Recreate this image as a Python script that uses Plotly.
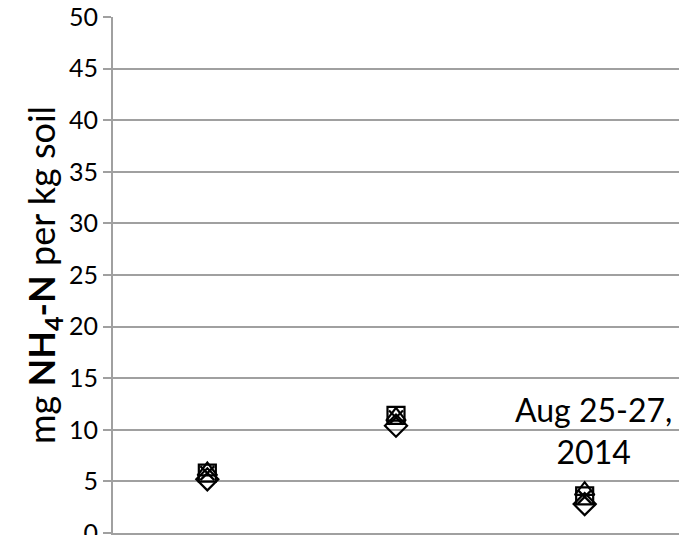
import plotly.graph_objects as go

# three sampling dates (category positions; x tick labels fall outside the crop)
sample_x = [1, 2, 3]

# mg NH4-N per kg soil, one list per treatment (marker)
square_vals = [5.8, 11.4, 3.6]
triangle_vals = [6.0, 11.3, 4.1]
x_vals = [5.8, 11.2, 3.5]
diamond_vals = [5.2, 10.4, 2.8]

y_ticks = [0, 5, 10, 15, 20, 25, 30, 35, 40, 45, 50]

FONT = "Lato"

fig = go.Figure()
series = [
    ("square-open", square_vals, 17),
    ("triangle-up-open", triangle_vals, 17),
    ("x-thin", x_vals, 14),
    ("diamond-open", diamond_vals, 17),
]
for sym, vals, size in series:
    fig.add_trace(go.Scatter(
        x=sample_x, y=vals, mode="markers",
        marker=dict(symbol=sym, size=size, color="black",
                    line=dict(color="black", width=2.2)),
        showlegend=False, hoverinfo="skip",
    ))

fig.add_annotation(
    x=sample_x[2], y=9.9, xref="x", yref="y", xshift=9,
    text="Aug 25-27,<br>2014", showarrow=False,
    font=dict(family=FONT, size=32, color="black"),
    align="center", yanchor="middle",
)

fig.update_layout(
    width=679, height=535,
    margin=dict(l=113, r=0, t=17, b=2, autoexpand=False),
    paper_bgcolor="white", plot_bgcolor="white",
    font=dict(family=FONT, color="black"),
)
fig.update_xaxes(
    range=[0.5, 3.5], showgrid=False, showticklabels=False, ticks="",
    showline=True, linecolor="#a0a0a0", linewidth=2, zeroline=False,
    automargin=False,
)
fig.update_yaxes(
    range=[0, 50], tickvals=y_ticks, showgrid=True, gridcolor="#a0a0a0",
    gridwidth=2, ticks="outside", ticklen=8, tickcolor="#a0a0a0", tickwidth=2,
    showline=True, linecolor="#a0a0a0", linewidth=2, zeroline=False,
    ticklabeloverflow="allow", automargin=False,
    tickfont=dict(family=FONT, size=25, color="black"),
    title=dict(text="mg <b>NH<sub>4</sub>-N</b> per kg soil",
               font=dict(family=FONT, size=36, color="black"), standoff=2),
)

fig.write_html("out.html")
